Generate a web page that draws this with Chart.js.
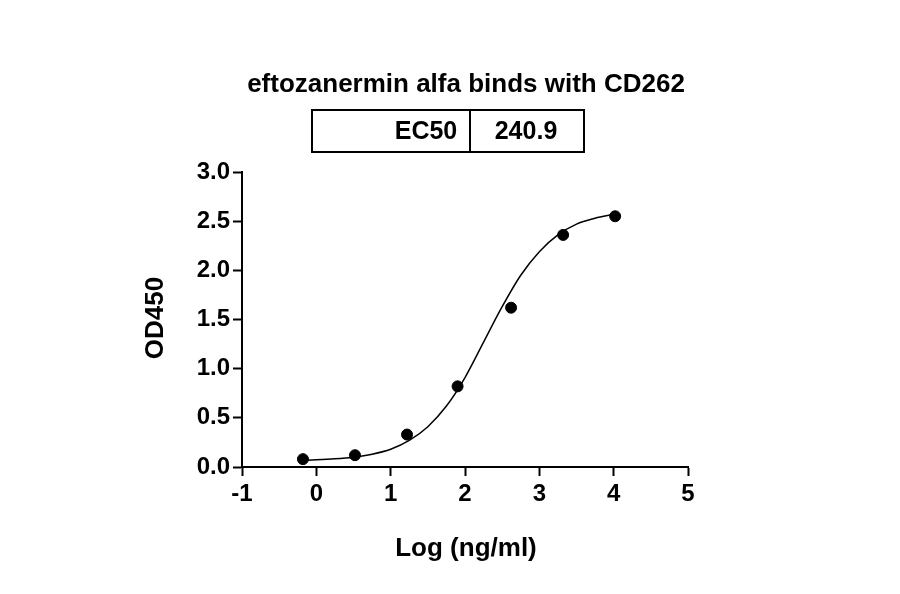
<!DOCTYPE html>
<html>
<head>
<meta charset="utf-8">
<script src="https://cdn.jsdelivr.net/npm/chart.js@4"></script>
<style>
  html, body { margin: 0; padding: 0; background: #fff; }
  #wrap { width: 900px; height: 594px; }
</style>
</head>
<body>
<div id="wrap"><canvas id="c" width="900" height="594"></canvas></div>
<script>
// measured points (log concentration, OD450)
const logConc = [-0.18, 0.52, 1.22, 1.90, 2.62, 3.32, 4.02];
const od450 = [0.08, 0.12, 0.33, 0.82, 1.62, 2.36, 2.55];

// fitted curve
const curveX = [-0.2, 0, 0.25, 0.5, 0.75, 1.0, 1.25, 1.5, 1.75, 2.0, 2.25, 2.5, 2.75, 3.0, 3.25, 3.5, 3.75, 4.0];
const curveY = [0.068, 0.073, 0.083, 0.10, 0.13, 0.18, 0.27, 0.41, 0.62, 0.91, 1.27, 1.63, 1.95, 2.19, 2.36, 2.47, 2.53, 2.57];

const titleText = 'eftozanermin alfa binds with CD262';
const tableLabel = 'EC50';
const tableValue = '240.9';
const xTitle = 'Log (ng/ml)';
const yTitle = 'OD450';

const FONT = '"Liberation Sans", Arial, sans-serif';

const titlePlugin = {
  id: 'titleTable',
  afterDraw(chart) {
    const ctx = chart.ctx;
    ctx.save();
    ctx.fillStyle = '#000';
    ctx.textAlign = 'center';
    ctx.textBaseline = 'middle';
    ctx.font = 'bold 26px ' + FONT;
    ctx.fillText(titleText, 466, 85);
    ctx.lineWidth = 2;
    ctx.strokeStyle = '#000';
    ctx.strokeRect(312, 110, 272, 42);
    ctx.beginPath();
    ctx.moveTo(470, 110);
    ctx.lineTo(470, 152);
    ctx.stroke();
    ctx.font = 'bold 25px ' + FONT;
    ctx.fillText(tableLabel, 426, 132);
    ctx.fillText(tableValue, 526, 132);
    ctx.font = 'bold 26px ' + FONT;
    ctx.fillText(xTitle, 466, 549);
    ctx.translate(156, 318);
    ctx.rotate(-Math.PI / 2);
    ctx.fillText(yTitle, 0, 0);
    ctx.restore();
  }
};

const tickGrid = { display: true, drawOnChartArea: false, drawTicks: true, tickLength: 9, tickColor: '#000', tickWidth: 2 };

new Chart(document.getElementById('c'), {
  type: 'scatter',
  data: {
    datasets: [
      {
        data: logConc.map((x, i) => ({ x: x, y: od450[i] })),
        backgroundColor: '#000',
        borderColor: '#000',
        pointRadius: 5.5,
        showLine: false
      },
      {
        data: curveX.map((x, i) => ({ x: x, y: curveY[i] })),
        borderColor: '#000',
        borderWidth: 1.5,
        pointRadius: 0,
        showLine: true,
        cubicInterpolationMode: 'monotone'
      }
    ]
  },
  options: {
    responsive: false,
    animation: false,
    layout: { padding: { left: 0, top: 172, right: 212, bottom: 0 } },
    plugins: { legend: { display: false }, tooltip: { enabled: false } },
    scales: {
      x: {
        type: 'linear', min: -1, max: 5,
        grid: tickGrid,
        border: { color: '#000', width: 2 },
        ticks: { stepSize: 1, color: '#000', font: { family: FONT, size: 24, weight: 'bold' }, padding: 4 },
        afterFit(s) { s.height = 127; }
      },
      y: {
        min: 0, max: 3,
        grid: tickGrid,
        border: { color: '#000', width: 2 },
        ticks: { stepSize: 0.5, color: '#000', font: { family: FONT, size: 24, weight: 'bold' }, padding: 3,
                 callback: v => v.toFixed(1) },
        afterFit(s) { s.width = 242; }
      }
    }
  },
  plugins: [titlePlugin]
});
</script>
</body>
</html>
